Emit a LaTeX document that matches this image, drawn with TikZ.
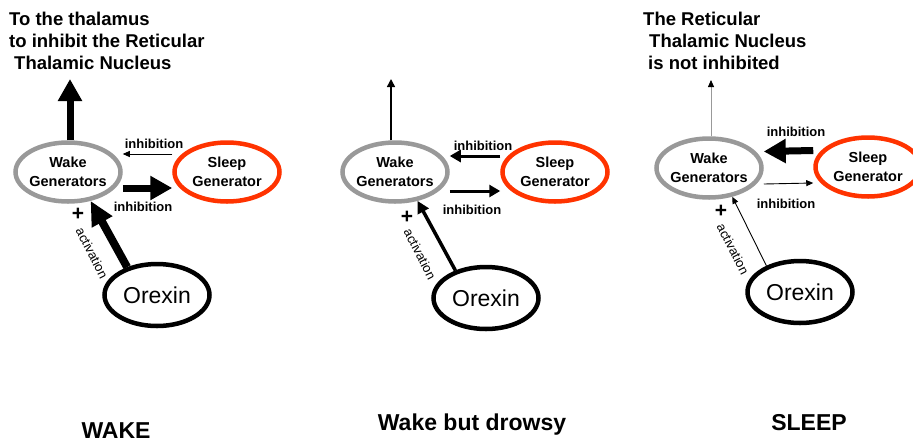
\documentclass[tikz,border=0pt]{standalone}
\usepackage{fontspec}
\setmainfont{Liberation Sans}
\usetikzlibrary{arrows.meta, shapes.geometric}
\definecolor{wakegray}{HTML}{999999}
\definecolor{sleepred}{HTML}{FF3300}
\tikzset{
    genell/.style={
        ellipse, draw=#1, line width=4.5pt,
        minimum width=105pt, minimum height=59pt, inner sep=0pt
    },
    genell/.default=black,
    orexell/.style={
        ellipse, draw=black, line width=4.5pt,
        minimum width=105pt, minimum height=62pt, inner sep=0pt,
        font=\fontsize{23}{26}\selectfont
    },
    gentext/.style={
        font=\bfseries\fontsize{14.5}{18.5}\selectfont, align=center, inner sep=0pt
    },
    titletext/.style={
        font=\bfseries\fontsize{18.5}{22}\selectfont, align=left, inner sep=0pt, anchor=north west
    },
    inhlabel/.style={font=\bfseries\fontsize{13}{15}\selectfont, inner sep=0pt},
    actlabel/.style={font=\fontsize{13}{15}\selectfont, inner sep=0pt, rotate=-63},
    pluslabel/.style={font=\bfseries\fontsize{21}{21}\selectfont, inner sep=0pt},
    statelabel/.style={font=\bfseries\fontsize{23}{26}\selectfont, inner sep=0pt, anchor=base},
    thickarrow/.style={-{Triangle[length=22pt,width=23pt]}, line width=7pt},
    medarrow/.style={-{Triangle[length=11pt,width=12pt]}, line width=3pt},
    thinarrow/.style={-{Triangle[length=7pt,width=6pt]}, line width=0.9pt},
}
\begin{document}
\begin{tikzpicture}[x=1pt, y=-1pt]
    \useasboundingbox (0,0) rectangle (913,440);

    % WAKE
    \node[titletext] (titleL) at (9,12) {To the thalamus\\to inhibit the Reticular\\\hspace{5pt}Thalamic Nucleus};
    \node[genell=wakegray] (wakeL) at (68,172) {};
    \node[gentext] (wakeLtxt) at (wakeL) {Wake\\Generators};
    \node[genell=sleepred] (sleepL) at (227,172) {};
    \node[gentext] (sleepLtxt) at (sleepL) {Sleep\\Generator};
    \node[orexell] (orexL) at (157,295) {Orexin};
    \coordinate (thalL) at (70,79);
    \draw[thickarrow] (wakeL.north -| thalL) -- (thalL);
    \draw[thinarrow] ([yshift=18pt]sleepL.west) -- ([yshift=18pt]wakeL.east);
    \node[inhlabel] (inhL1) at (154,144) {inhibition};
    \draw[thickarrow] ([yshift=-16pt]wakeL.east) -- ([yshift=-16pt]sleepL.west);
    \node[inhlabel] (inhL2) at (143,207) {inhibition};
    \draw[-{Triangle[length=24pt,width=22pt]}, line width=8pt] (orexL.137) -- (wakeL.-52);
    \node[pluslabel] (plusL) at (78,214) {+};
    \node[actlabel] (actL) at (92,253) {activation};
    \node[statelabel] (stateL) at (116,438) {WAKE};

    % Wake but drowsy
    \node[genell=wakegray] (wakeM) at (395,172) {};
    \node[gentext] (wakeMtxt) at (wakeM) {Wake\\Generators};
    \node[genell=sleepred] (sleepM) at (555,172) {};
    \node[gentext] (sleepMtxt) at (sleepM) {Sleep\\Generator};
    \node[orexell] (orexM) at (486,298) {Orexin};
    \coordinate (thalM) at (391,79);
    \draw[-{Triangle[length=8pt,width=8pt]}, line width=1.5pt] (wakeM.north -| thalM) -- (thalM);
    \draw[medarrow] ([yshift=16pt]sleepM.west) -- ([yshift=16pt]wakeM.east);
    \node[inhlabel] (inhM1) at (483,146) {inhibition};
    \draw[medarrow] ([yshift=-19pt]wakeM.east) -- ([yshift=-19pt]sleepM.west);
    \node[inhlabel] (inhM2) at (472,210) {inhibition};
    \draw[-{Triangle[length=12pt,width=12pt]}, line width=3.5pt] (orexM.138) -- (wakeM.-52);
    \node[pluslabel] (plusM) at (407,217) {+};
    \node[actlabel] (actM) at (420,254) {activation};
    \node[statelabel] (stateM) at (472,430) {Wake but drowsy};

    % SLEEP
    \node[titletext] (titleR) at (643,12) {The Reticular\\\hspace{6pt}Thalamic Nucleus\\\hspace{5pt}is not inhibited};
    \node[genell=wakegray] (wakeR) at (709,168) {};
    \node[gentext] (wakeRtxt) at (wakeR) {Wake\\Generators};
    \node[genell=sleepred] (sleepR) at (868,167) {};
    \node[gentext] (sleepRtxt) at (sleepR) {Sleep\\Generator};
    \node[orexell] (orexR) at (800,292) {Orexin};
    \coordinate (thalR) at (711,80);
    \draw[-{Triangle[length=7pt,width=6pt,black]}, line width=0.8pt, wakegray] (wakeR.north -| thalR) -- (thalR);
    \draw[thickarrow] ([yshift=16.5pt]sleepR.west) -- ([yshift=16.5pt]wakeR.east);
    \node[inhlabel] (inhR1) at (796,132) {inhibition};
    \draw[thinarrow] ([yshift=-16pt]wakeR.east) -- ([yshift=-16pt]sleepR.west);
    \node[inhlabel] (inhR2) at (786,204) {inhibition};
    \draw[thinarrow] (orexR.142) -- (wakeR.-51);
    \node[pluslabel] (plusR) at (721,211) {+};
    \node[actlabel] (actR) at (733,249) {activation};
    \node[statelabel] (stateR) at (809,430) {SLEEP};
\end{tikzpicture}
\end{document}
